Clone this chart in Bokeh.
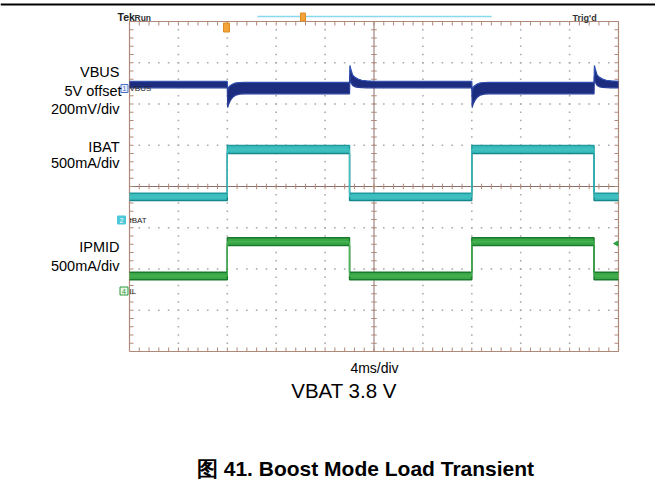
from bokeh.plotting import figure
from bokeh.models import Range1d, Label
from bokeh.embed import file_html
from bokeh.resources import INLINE
from bokeh.core.properties import value
import numpy as np

# ---------------- data ----------------
time_div_ms = 4            # 4 ms/div, 10 divisions
n_xdiv = 10
n_ydiv = 8

# VBUS (mV relative to 5 V offset), envelope of the noisy trace
vbus_t = [0.0,
          8.0, 8.03, 8.1, 8.25, 8.45, 8.7, 9.0, 9.4, 10.0,
          18.0, 18.03, 18.1, 18.25, 18.45, 18.7, 19.0, 19.4, 20.0,
          28.0, 28.03, 28.1, 28.25, 28.45, 28.7, 29.0, 29.4, 30.0,
          38.0, 38.03, 38.1, 38.25, 38.45, 38.7, 39.0, 39.4, 40.0]
vbus_hi = [35,
           35, -10, 5, 15, 22, 27, 29, 30, 30,
           30, 112, 95, 66, 54, 46, 40, 37, 35,
           35, -10, 5, 15, 22, 27, 29, 30, 30,
           30, 112, 95, 66, 54, 46, 40, 37, 35]
vbus_lo = [3,
           3, -92, -78, -58, -42, -32, -27, -26, -26,
           -26, 60, 30, 15, 8, 5, 4, 3, 3,
           3, -92, -78, -58, -42, -32, -27, -26, -26,
           -26, 60, 30, 15, 8, 5, 4, 3, 3]

# IBAT and IPMID (mA), envelopes
step_t = [0, 8, 8, 18, 18, 28, 28, 38, 38, 40]
ibat_lo = [242, 242, 812, 812, 242, 242, 812, 812, 242, 242]
ibat_hi = [331, 331, 909, 909, 331, 331, 909, 909, 331, 331]
ipmid_lo = [130, 130, 545, 545, 130, 130, 545, 545, 130, 130]
ipmid_hi = [222, 222, 639, 639, 222, 222, 639, 639, 222, 222]

# channel ground positions (divisions from bottom) and scales
ch1_gnd, ch1_scale = 6.376, 200.0   # mV/div
ch2_gnd, ch2_scale = 3.176, 500.0   # mA/div
ch4_gnd, ch4_scale = 1.479, 500.0   # mA/div

# ---------------- layout ----------------
W, H = 655, 481
FX0, FX1 = 129, 618      # scope frame (px)
FY0, FY1 = 21, 351
pxx = (FX1 - FX0) / (n_xdiv * time_div_ms)
pxy = (FY1 - FY0) / n_ydiv
x_start = -FX0 / pxx
x_end = n_xdiv * time_div_ms + (W - FX1) / pxx
y_start = -(H - FY1) / pxy
y_end = n_ydiv + FY0 / pxy


def X(px):  # pixel -> data x
    return (px - FX0) / pxx


def Y(py):
    return (FY1 - py) / pxy


p = figure(width=W, height=H, x_range=Range1d(x_start, x_end),
           y_range=Range1d(y_start, y_end), output_backend="svg",
           toolbar_location=None, min_border=0,
           x_axis_location=None, y_axis_location=None)
p.grid.visible = False
p.outline_line_color = None
p.background_fill_color = "white"
p.border_fill_color = "white"

T_END = n_xdiv * time_div_ms

# ---- grid dots ----
gx, gy = [], []
for k in range(1, n_xdiv):
    if k == n_xdiv // 2:
        continue
    for j in range(1, n_ydiv * 5):
        gx.append(k * time_div_ms); gy.append(j * 0.2)
for k in range(1, n_ydiv):
    if k == n_ydiv // 2:
        continue
    for j in range(1, n_xdiv * 5):
        gx.append(j * time_div_ms / 5); gy.append(k)
p.scatter(gx, gy, marker="square", size=1.6, color="#a9a9a9", line_color=None)

frame_col = "#b08878"
# ---- frame border ----
p.line([0, T_END, T_END, 0, 0], [0, 0, n_ydiv, n_ydiv, 0],
       line_color=frame_col, line_width=1.2)
# center cross
p.line([0, T_END], [n_ydiv / 2] * 2, line_color="#8a7068", line_width=1)
p.line([T_END / 2] * 2, [0, n_ydiv], line_color="#8a7068", line_width=1)

# ticks
tl_x = 4 / pxx   # 4 px in ms
tl_y = 4 / pxy
x0s, y0s, x1s, y1s = [], [], [], []
for j in range(1, n_xdiv * 5):
    t = j * time_div_ms / 5
    x0s += [t, t, t]; x1s += [t, t, t]
    y0s += [0, n_ydiv, n_ydiv / 2 - tl_y * 0.7]
    y1s += [tl_y, n_ydiv - tl_y, n_ydiv / 2 + tl_y * 0.7]
for j in range(1, n_ydiv * 5):
    v = j * 0.2
    y0s += [v, v, v]; y1s += [v, v, v]
    x0s += [0, T_END, T_END / 2 - tl_x * 0.7]
    x1s += [tl_x, T_END - tl_x, T_END / 2 + tl_x * 0.7]
p.segment(x0s, y0s, x1s, y1s, line_color=frame_col, line_width=1)

# ---- traces ----
vb_lo = ch1_gnd + np.array(vbus_lo) / ch1_scale
vb_hi = ch1_gnd + np.array(vbus_hi) / ch1_scale
p.varea(x=vbus_t, y1=vb_lo, y2=vb_hi, fill_color="#1c2d80")
p.line(vbus_t, vb_hi, line_color="#3050b0", line_width=1.2)
p.line(vbus_t, vb_lo, line_color="#2a3f9a", line_width=1.2)

ib_lo = ch2_gnd + np.array(ibat_lo) / ch2_scale
ib_hi = ch2_gnd + np.array(ibat_hi) / ch2_scale
p.varea(x=step_t, y1=ib_lo, y2=ib_hi, fill_color="#3cbcbc")
p.line(step_t, ib_hi, line_color="#1e9a9c", line_width=1.4)
p.line(step_t, ib_lo, line_color="#15878b", line_width=1.4)
p.line(step_t, (ib_lo + ib_hi) / 2, line_color="#40c4c4", line_width=1)

ip_lo = ch4_gnd + np.array(ipmid_lo) / ch4_scale
ip_hi = ch4_gnd + np.array(ipmid_hi) / ch4_scale
p.varea(x=step_t, y1=ip_lo, y2=ip_hi, fill_color="#3aa846")
p.line(step_t, ip_hi, line_color="#1a7a2c", line_width=1.4)
p.line(step_t, ip_lo, line_color="#1a7a2c", line_width=1.4)
p.line(step_t, (ip_lo + ip_hi) / 2, line_color="#4cb858", line_width=1)

# ---- scope annotations ----
FONT = value("Liberation Sans")
FONT_NAME = "Liberation Sans"
# top rule
p.line([x_start, x_end], [Y(4)] * 2, line_color="black", line_width=2)
# cyan record bar
p.line([X(257), X(491)], [Y(16)] * 2, line_color="#86d8ea", line_width=1.5)
# orange markers
p.rect([X(302.5)], [Y(16.5)], width=5, height=8, width_units="screen",
       height_units="screen", fill_color="#f2a43a", line_color="#e08a20")
p.rect([X(226)], [Y(27)], width=6, height=9, width_units="screen",
       height_units="screen", fill_color="#f2a43a", line_color="#e08a20")
# ch marker boxes
p.rect([X(124)], [Y(88)], width=7, height=8, width_units="screen",
       height_units="screen", fill_color="#e8eefa", line_color="#4a70c8")
p.text([X(124)], [Y(88)], text=["1"], text_font=FONT, text_font_size="7px",
       text_color="#4a70c8", text_align="center", text_baseline="middle")
p.rect([X(121)], [Y(219.5)], width=8, height=8, width_units="screen",
       height_units="screen", fill_color="#4cc8d8", line_color="#4cc8d8")
p.text([X(121)], [Y(219.5)], text=["2"], text_font=FONT, text_font_size="7px",
       text_color="white", text_align="center", text_baseline="middle")
p.rect([X(123.5)], [Y(290.5)], width=8, height=8, width_units="screen",
       height_units="screen", fill_color="#eaf6ea", line_color="#2a9a3a")
p.text([X(123.5)], [Y(290.5)], text=["4"], text_font=FONT, text_font_size="7px",
       text_color="#2a9a3a", text_align="center", text_baseline="middle")
# small green level arrow at right
p.scatter([X(616)], [Y(243)], marker="triangle", angle=np.pi / 2, size=5,
          color="#2aa040")


def lab(x, y, text, size, align="left", bold=False, color="black"):
    # y is the vertical centre of the capitals
    p.add_layout(Label(x=x, y=y, text=text, text_font=FONT_NAME,
                       text_font_size=size, text_align=align,
                       text_baseline="alphabetic", text_color=color,
                       text_font_style="bold" if bold else "normal"))


lab(X(117), Y(16.5), "Tek", "10.5px", bold=True, color="#222222")
lab(X(134), Y(17), "Run", "8.5px", bold=True, color="#333333")
lab(X(572), Y(17), "Trig'd", "9px", bold=True, color="#333333")
lab(X(129), Y(88), "VBUS", "8px", color="#222222")
lab(X(129), Y(220), "IBAT", "8px", color="#222222")
lab(X(129), Y(291), "IL", "8px", color="#222222")

# side labels
SL = "14.5px"
lab(X(119), Y(71.5), "VBUS", SL, align="right")
lab(X(121), Y(90), "5V offset", SL, align="right")
lab(X(119), Y(108), "200mV/div", SL, align="right")
lab(X(119), Y(146), "IBAT", SL, align="right")
lab(X(119), Y(162.5), "500mA/div", SL, align="right")
lab(X(119), Y(246.5), "IPMID", SL, align="right")
lab(X(119), Y(265), "500mA/div", SL, align="right")

# bottom texts
lab(X(374), Y(367), "4ms/div", "14px", align="center")
lab(X(343.5), Y(389.5), "VBAT 3.8 V", "20.5px", align="center")
lab(X(365), Y(467.5), "图 41. Boost Mode Load Transient", "21px",
    align="center", bold=True)

open("out.html", "w").write(file_html(p, INLINE))
